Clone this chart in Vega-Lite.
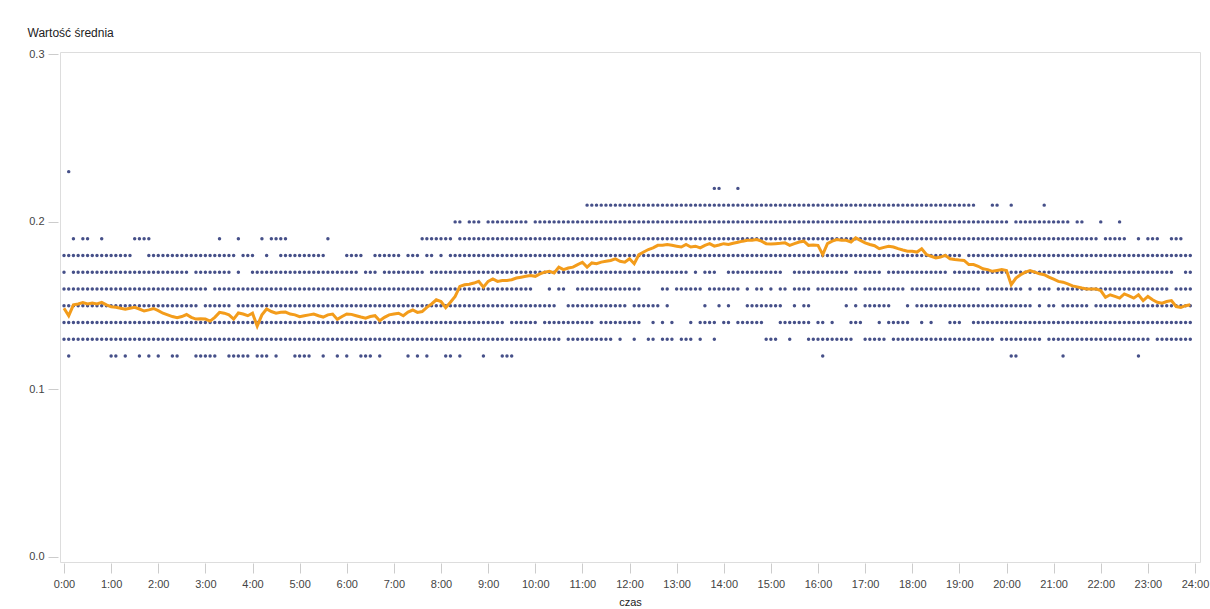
{"$schema":"https://vega.github.io/schema/vega-lite/v6.json","width":1140,"height":510,"autosize":{"type":"none"},"padding":{"left":60,"top":52,"right":10,"bottom":47},"background":"white",
"config":{"view":{"stroke":"#dddddd"},"font":"Liberation Sans","axis":{"labelColor":"#444444","labelFontSize":11,"tickColor":"#cccccc","titleColor":"#222222","titleFontWeight":"normal"}},
"datasets":{"dots":[
{"t":0.1,"v":0.23},
{"t":13.8,"v":0.22},{"t":13.9,"v":0.22},{"t":14.3,"v":0.22},
{"t":11.1,"v":0.21},{"t":11.2,"v":0.21},{"t":11.3,"v":0.21},{"t":11.4,"v":0.21},{"t":11.5,"v":0.21},{"t":11.6,"v":0.21},{"t":11.7,"v":0.21},{"t":11.8,"v":0.21},{"t":11.9,"v":0.21},
{"t":12,"v":0.21},{"t":12.1,"v":0.21},{"t":12.2,"v":0.21},{"t":12.3,"v":0.21},{"t":12.4,"v":0.21},{"t":12.5,"v":0.21},{"t":12.6,"v":0.21},{"t":12.7,"v":0.21},{"t":12.8,"v":0.21},{"t":12.9,"v":0.21},
{"t":13,"v":0.21},{"t":13.1,"v":0.21},{"t":13.2,"v":0.21},{"t":13.3,"v":0.21},{"t":13.4,"v":0.21},{"t":13.5,"v":0.21},{"t":13.6,"v":0.21},{"t":13.7,"v":0.21},{"t":13.8,"v":0.21},{"t":13.9,"v":0.21},
{"t":14,"v":0.21},{"t":14.1,"v":0.21},{"t":14.2,"v":0.21},{"t":14.3,"v":0.21},{"t":14.4,"v":0.21},{"t":14.5,"v":0.21},{"t":14.6,"v":0.21},{"t":14.7,"v":0.21},{"t":14.8,"v":0.21},{"t":14.9,"v":0.21},
{"t":15,"v":0.21},{"t":15.1,"v":0.21},{"t":15.2,"v":0.21},{"t":15.3,"v":0.21},{"t":15.4,"v":0.21},{"t":15.5,"v":0.21},{"t":15.6,"v":0.21},{"t":15.7,"v":0.21},{"t":15.8,"v":0.21},{"t":15.9,"v":0.21},
{"t":16,"v":0.21},{"t":16.1,"v":0.21},{"t":16.2,"v":0.21},{"t":16.3,"v":0.21},{"t":16.4,"v":0.21},{"t":16.5,"v":0.21},{"t":16.6,"v":0.21},{"t":16.7,"v":0.21},{"t":16.8,"v":0.21},{"t":16.9,"v":0.21},
{"t":17,"v":0.21},{"t":17.1,"v":0.21},{"t":17.2,"v":0.21},{"t":17.3,"v":0.21},{"t":17.4,"v":0.21},{"t":17.5,"v":0.21},{"t":17.6,"v":0.21},{"t":17.7,"v":0.21},{"t":17.8,"v":0.21},{"t":17.9,"v":0.21},
{"t":18,"v":0.21},{"t":18.1,"v":0.21},{"t":18.2,"v":0.21},{"t":18.3,"v":0.21},{"t":18.4,"v":0.21},{"t":18.5,"v":0.21},{"t":18.6,"v":0.21},{"t":18.7,"v":0.21},{"t":18.8,"v":0.21},{"t":18.9,"v":0.21},
{"t":19,"v":0.21},{"t":19.1,"v":0.21},{"t":19.2,"v":0.21},{"t":19.3,"v":0.21},{"t":19.7,"v":0.21},{"t":19.8,"v":0.21},{"t":20.1,"v":0.21},{"t":20.8,"v":0.21},
{"t":8.3,"v":0.2},{"t":8.4,"v":0.2},{"t":8.6,"v":0.2},{"t":8.7,"v":0.2},{"t":8.8,"v":0.2},
{"t":9,"v":0.2},{"t":9.1,"v":0.2},{"t":9.2,"v":0.2},{"t":9.3,"v":0.2},{"t":9.4,"v":0.2},{"t":9.5,"v":0.2},{"t":9.6,"v":0.2},{"t":9.7,"v":0.2},{"t":9.8,"v":0.2},
{"t":10,"v":0.2},{"t":10.1,"v":0.2},{"t":10.2,"v":0.2},{"t":10.3,"v":0.2},{"t":10.4,"v":0.2},{"t":10.5,"v":0.2},{"t":10.6,"v":0.2},{"t":10.7,"v":0.2},{"t":10.8,"v":0.2},{"t":10.9,"v":0.2},
{"t":11,"v":0.2},{"t":11.1,"v":0.2},{"t":11.2,"v":0.2},{"t":11.3,"v":0.2},{"t":11.4,"v":0.2},{"t":11.5,"v":0.2},{"t":11.6,"v":0.2},{"t":11.7,"v":0.2},{"t":11.8,"v":0.2},{"t":11.9,"v":0.2},
{"t":12,"v":0.2},{"t":12.1,"v":0.2},{"t":12.2,"v":0.2},{"t":12.3,"v":0.2},{"t":12.4,"v":0.2},{"t":12.5,"v":0.2},{"t":12.6,"v":0.2},{"t":12.7,"v":0.2},{"t":12.8,"v":0.2},{"t":12.9,"v":0.2},
{"t":13,"v":0.2},{"t":13.1,"v":0.2},{"t":13.2,"v":0.2},{"t":13.3,"v":0.2},{"t":13.4,"v":0.2},{"t":13.5,"v":0.2},{"t":13.6,"v":0.2},{"t":13.7,"v":0.2},{"t":13.8,"v":0.2},{"t":13.9,"v":0.2},
{"t":14,"v":0.2},{"t":14.1,"v":0.2},{"t":14.2,"v":0.2},{"t":14.3,"v":0.2},{"t":14.4,"v":0.2},{"t":14.5,"v":0.2},{"t":14.6,"v":0.2},{"t":14.7,"v":0.2},{"t":14.8,"v":0.2},{"t":14.9,"v":0.2},
{"t":15,"v":0.2},{"t":15.1,"v":0.2},{"t":15.2,"v":0.2},{"t":15.3,"v":0.2},{"t":15.4,"v":0.2},{"t":15.5,"v":0.2},{"t":15.6,"v":0.2},{"t":15.7,"v":0.2},{"t":15.8,"v":0.2},{"t":15.9,"v":0.2},
{"t":16,"v":0.2},{"t":16.1,"v":0.2},{"t":16.2,"v":0.2},{"t":16.3,"v":0.2},{"t":16.4,"v":0.2},{"t":16.5,"v":0.2},{"t":16.6,"v":0.2},{"t":16.7,"v":0.2},{"t":16.8,"v":0.2},{"t":16.9,"v":0.2},
{"t":17,"v":0.2},{"t":17.1,"v":0.2},{"t":17.2,"v":0.2},{"t":17.3,"v":0.2},{"t":17.4,"v":0.2},{"t":17.5,"v":0.2},{"t":17.6,"v":0.2},{"t":17.7,"v":0.2},{"t":17.8,"v":0.2},{"t":17.9,"v":0.2},
{"t":18,"v":0.2},{"t":18.1,"v":0.2},{"t":18.2,"v":0.2},{"t":18.3,"v":0.2},{"t":18.4,"v":0.2},{"t":18.5,"v":0.2},{"t":18.6,"v":0.2},{"t":18.7,"v":0.2},{"t":18.8,"v":0.2},{"t":18.9,"v":0.2},
{"t":19,"v":0.2},{"t":19.1,"v":0.2},{"t":19.2,"v":0.2},{"t":19.3,"v":0.2},{"t":19.4,"v":0.2},{"t":19.5,"v":0.2},{"t":19.6,"v":0.2},{"t":19.7,"v":0.2},{"t":19.8,"v":0.2},{"t":19.9,"v":0.2},
{"t":20,"v":0.2},{"t":20.2,"v":0.2},{"t":20.3,"v":0.2},{"t":20.4,"v":0.2},{"t":20.5,"v":0.2},{"t":20.6,"v":0.2},{"t":20.7,"v":0.2},{"t":20.8,"v":0.2},{"t":20.9,"v":0.2},
{"t":21,"v":0.2},{"t":21.1,"v":0.2},{"t":21.2,"v":0.2},{"t":21.3,"v":0.2},{"t":21.5,"v":0.2},{"t":21.6,"v":0.2},{"t":22,"v":0.2},{"t":22.4,"v":0.2},
{"t":0.2,"v":0.19},{"t":0.4,"v":0.19},{"t":0.5,"v":0.19},{"t":0.8,"v":0.19},{"t":1.5,"v":0.19},{"t":1.6,"v":0.19},{"t":1.7,"v":0.19},{"t":1.8,"v":0.19},{"t":3.3,"v":0.19},{"t":3.7,"v":0.19},{"t":4.2,"v":0.19},{"t":4.4,"v":0.19},{"t":4.5,"v":0.19},{"t":4.6,"v":0.19},{"t":4.7,"v":0.19},{"t":5.6,"v":0.19},
{"t":7.6,"v":0.19},{"t":7.7,"v":0.19},{"t":7.8,"v":0.19},{"t":7.9,"v":0.19},{"t":8,"v":0.19},{"t":8.1,"v":0.19},{"t":8.2,"v":0.19},{"t":8.4,"v":0.19},{"t":8.5,"v":0.19},{"t":8.6,"v":0.19},{"t":8.7,"v":0.19},{"t":8.8,"v":0.19},{"t":8.9,"v":0.19},
{"t":9,"v":0.19},{"t":9.1,"v":0.19},{"t":9.2,"v":0.19},{"t":9.3,"v":0.19},{"t":9.4,"v":0.19},{"t":9.5,"v":0.19},{"t":9.6,"v":0.19},{"t":9.7,"v":0.19},{"t":9.8,"v":0.19},{"t":9.9,"v":0.19},
{"t":10,"v":0.19},{"t":10.1,"v":0.19},{"t":10.2,"v":0.19},{"t":10.3,"v":0.19},{"t":10.4,"v":0.19},{"t":10.5,"v":0.19},{"t":10.6,"v":0.19},{"t":10.7,"v":0.19},{"t":10.8,"v":0.19},{"t":10.9,"v":0.19},
{"t":11,"v":0.19},{"t":11.1,"v":0.19},{"t":11.2,"v":0.19},{"t":11.3,"v":0.19},{"t":11.4,"v":0.19},{"t":11.5,"v":0.19},{"t":11.6,"v":0.19},{"t":11.7,"v":0.19},{"t":11.8,"v":0.19},{"t":11.9,"v":0.19},
{"t":12,"v":0.19},{"t":12.1,"v":0.19},{"t":12.2,"v":0.19},{"t":12.3,"v":0.19},{"t":12.4,"v":0.19},{"t":12.5,"v":0.19},{"t":12.6,"v":0.19},{"t":12.7,"v":0.19},{"t":12.8,"v":0.19},{"t":12.9,"v":0.19},
{"t":13,"v":0.19},{"t":13.1,"v":0.19},{"t":13.2,"v":0.19},{"t":13.3,"v":0.19},{"t":13.4,"v":0.19},{"t":13.5,"v":0.19},{"t":13.6,"v":0.19},{"t":13.7,"v":0.19},{"t":13.8,"v":0.19},{"t":13.9,"v":0.19},
{"t":14,"v":0.19},{"t":14.1,"v":0.19},{"t":14.2,"v":0.19},{"t":14.3,"v":0.19},{"t":14.4,"v":0.19},{"t":14.5,"v":0.19},{"t":14.6,"v":0.19},{"t":14.7,"v":0.19},{"t":14.8,"v":0.19},{"t":14.9,"v":0.19},
{"t":15,"v":0.19},{"t":15.1,"v":0.19},{"t":15.2,"v":0.19},{"t":15.3,"v":0.19},{"t":15.4,"v":0.19},{"t":15.5,"v":0.19},{"t":15.6,"v":0.19},{"t":15.7,"v":0.19},{"t":15.8,"v":0.19},{"t":15.9,"v":0.19},
{"t":16,"v":0.19},{"t":16.1,"v":0.19},{"t":16.2,"v":0.19},{"t":16.3,"v":0.19},{"t":16.4,"v":0.19},{"t":16.5,"v":0.19},{"t":16.6,"v":0.19},{"t":16.7,"v":0.19},{"t":16.8,"v":0.19},{"t":16.9,"v":0.19},
{"t":17,"v":0.19},{"t":17.1,"v":0.19},{"t":17.2,"v":0.19},{"t":17.3,"v":0.19},{"t":17.4,"v":0.19},{"t":17.5,"v":0.19},{"t":17.6,"v":0.19},{"t":17.7,"v":0.19},{"t":17.8,"v":0.19},{"t":17.9,"v":0.19},
{"t":18,"v":0.19},{"t":18.1,"v":0.19},{"t":18.2,"v":0.19},{"t":18.3,"v":0.19},{"t":18.4,"v":0.19},{"t":18.5,"v":0.19},{"t":18.6,"v":0.19},{"t":18.7,"v":0.19},{"t":18.8,"v":0.19},{"t":18.9,"v":0.19},
{"t":19,"v":0.19},{"t":19.1,"v":0.19},{"t":19.2,"v":0.19},{"t":19.3,"v":0.19},{"t":19.4,"v":0.19},{"t":19.5,"v":0.19},{"t":19.6,"v":0.19},{"t":19.7,"v":0.19},{"t":19.8,"v":0.19},{"t":19.9,"v":0.19},
{"t":20,"v":0.19},{"t":20.1,"v":0.19},{"t":20.2,"v":0.19},{"t":20.3,"v":0.19},{"t":20.4,"v":0.19},{"t":20.5,"v":0.19},{"t":20.6,"v":0.19},{"t":20.7,"v":0.19},{"t":20.8,"v":0.19},{"t":20.9,"v":0.19},
{"t":21,"v":0.19},{"t":21.1,"v":0.19},{"t":21.2,"v":0.19},{"t":21.3,"v":0.19},{"t":21.4,"v":0.19},{"t":21.5,"v":0.19},{"t":21.6,"v":0.19},{"t":21.7,"v":0.19},{"t":21.8,"v":0.19},{"t":21.9,"v":0.19},
{"t":22.1,"v":0.19},{"t":22.2,"v":0.19},{"t":22.3,"v":0.19},{"t":22.4,"v":0.19},{"t":22.5,"v":0.19},{"t":22.8,"v":0.19},{"t":23,"v":0.19},{"t":23.1,"v":0.19},{"t":23.2,"v":0.19},{"t":23.5,"v":0.19},{"t":23.6,"v":0.19},{"t":23.7,"v":0.19},
{"t":0,"v":0.18},{"t":0.1,"v":0.18},{"t":0.2,"v":0.18},{"t":0.3,"v":0.18},{"t":0.4,"v":0.18},{"t":0.5,"v":0.18},{"t":0.6,"v":0.18},{"t":0.7,"v":0.18},{"t":0.8,"v":0.18},{"t":0.9,"v":0.18},
{"t":1,"v":0.18},{"t":1.1,"v":0.18},{"t":1.2,"v":0.18},{"t":1.3,"v":0.18},{"t":1.4,"v":0.18},{"t":1.8,"v":0.18},{"t":1.9,"v":0.18},
{"t":2,"v":0.18},{"t":2.1,"v":0.18},{"t":2.2,"v":0.18},{"t":2.3,"v":0.18},{"t":2.4,"v":0.18},{"t":2.5,"v":0.18},{"t":2.6,"v":0.18},{"t":2.7,"v":0.18},{"t":2.8,"v":0.18},{"t":2.9,"v":0.18},
{"t":3,"v":0.18},{"t":3.1,"v":0.18},{"t":3.2,"v":0.18},{"t":3.3,"v":0.18},{"t":3.4,"v":0.18},{"t":3.5,"v":0.18},{"t":3.6,"v":0.18},{"t":3.8,"v":0.18},{"t":3.9,"v":0.18},{"t":4,"v":0.18},{"t":4.3,"v":0.18},
{"t":4.6,"v":0.18},{"t":4.7,"v":0.18},{"t":4.8,"v":0.18},{"t":4.9,"v":0.18},{"t":5,"v":0.18},{"t":5.1,"v":0.18},{"t":5.2,"v":0.18},{"t":5.3,"v":0.18},{"t":5.4,"v":0.18},{"t":5.5,"v":0.18},
{"t":6,"v":0.18},{"t":6.1,"v":0.18},{"t":6.2,"v":0.18},{"t":6.3,"v":0.18},{"t":6.6,"v":0.18},{"t":6.7,"v":0.18},{"t":6.8,"v":0.18},{"t":6.9,"v":0.18},{"t":7,"v":0.18},{"t":7.1,"v":0.18},
{"t":7.3,"v":0.18},{"t":7.4,"v":0.18},{"t":7.5,"v":0.18},{"t":7.7,"v":0.18},{"t":7.8,"v":0.18},{"t":8,"v":0.18},{"t":8.2,"v":0.18},{"t":8.3,"v":0.18},{"t":8.4,"v":0.18},{"t":8.5,"v":0.18},{"t":8.6,"v":0.18},{"t":8.7,"v":0.18},{"t":8.8,"v":0.18},{"t":8.9,"v":0.18},
{"t":9,"v":0.18},{"t":9.1,"v":0.18},{"t":9.2,"v":0.18},{"t":9.3,"v":0.18},{"t":9.4,"v":0.18},{"t":9.5,"v":0.18},{"t":9.6,"v":0.18},{"t":9.7,"v":0.18},{"t":9.8,"v":0.18},{"t":9.9,"v":0.18},
{"t":10,"v":0.18},{"t":10.1,"v":0.18},{"t":10.2,"v":0.18},{"t":10.3,"v":0.18},{"t":10.4,"v":0.18},{"t":10.5,"v":0.18},{"t":10.6,"v":0.18},{"t":10.7,"v":0.18},{"t":10.8,"v":0.18},{"t":10.9,"v":0.18},
{"t":11,"v":0.18},{"t":11.1,"v":0.18},{"t":11.2,"v":0.18},{"t":11.3,"v":0.18},{"t":11.4,"v":0.18},{"t":11.5,"v":0.18},{"t":11.6,"v":0.18},{"t":11.7,"v":0.18},{"t":11.8,"v":0.18},{"t":11.9,"v":0.18},
{"t":12,"v":0.18},{"t":12.1,"v":0.18},{"t":12.2,"v":0.18},{"t":12.3,"v":0.18},{"t":12.4,"v":0.18},{"t":12.5,"v":0.18},{"t":12.6,"v":0.18},{"t":12.7,"v":0.18},{"t":12.8,"v":0.18},{"t":12.9,"v":0.18},
{"t":13,"v":0.18},{"t":13.1,"v":0.18},{"t":13.2,"v":0.18},{"t":13.3,"v":0.18},{"t":13.4,"v":0.18},{"t":13.5,"v":0.18},{"t":13.6,"v":0.18},{"t":13.7,"v":0.18},{"t":13.8,"v":0.18},{"t":13.9,"v":0.18},
{"t":14,"v":0.18},{"t":14.1,"v":0.18},{"t":14.2,"v":0.18},{"t":14.3,"v":0.18},{"t":14.4,"v":0.18},{"t":14.5,"v":0.18},{"t":14.6,"v":0.18},{"t":14.7,"v":0.18},{"t":14.8,"v":0.18},{"t":14.9,"v":0.18},
{"t":15,"v":0.18},{"t":15.1,"v":0.18},{"t":15.2,"v":0.18},{"t":15.3,"v":0.18},{"t":15.4,"v":0.18},{"t":15.5,"v":0.18},{"t":15.6,"v":0.18},{"t":15.7,"v":0.18},{"t":15.8,"v":0.18},{"t":15.9,"v":0.18},
{"t":16,"v":0.18},{"t":16.1,"v":0.18},{"t":16.2,"v":0.18},{"t":16.3,"v":0.18},{"t":16.4,"v":0.18},{"t":16.5,"v":0.18},{"t":16.6,"v":0.18},{"t":16.7,"v":0.18},{"t":16.8,"v":0.18},{"t":16.9,"v":0.18},
{"t":17,"v":0.18},{"t":17.1,"v":0.18},{"t":17.2,"v":0.18},{"t":17.3,"v":0.18},{"t":17.4,"v":0.18},{"t":17.5,"v":0.18},{"t":17.6,"v":0.18},{"t":17.7,"v":0.18},{"t":17.8,"v":0.18},{"t":17.9,"v":0.18},
{"t":18,"v":0.18},{"t":18.1,"v":0.18},{"t":18.2,"v":0.18},{"t":18.3,"v":0.18},{"t":18.4,"v":0.18},{"t":18.5,"v":0.18},{"t":18.6,"v":0.18},{"t":18.7,"v":0.18},{"t":18.8,"v":0.18},{"t":18.9,"v":0.18},
{"t":19,"v":0.18},{"t":19.2,"v":0.18},{"t":19.3,"v":0.18},{"t":19.4,"v":0.18},{"t":19.5,"v":0.18},{"t":19.6,"v":0.18},{"t":19.7,"v":0.18},{"t":19.8,"v":0.18},{"t":19.9,"v":0.18},
{"t":20,"v":0.18},{"t":20.1,"v":0.18},{"t":20.2,"v":0.18},{"t":20.3,"v":0.18},{"t":20.4,"v":0.18},{"t":20.5,"v":0.18},{"t":20.6,"v":0.18},{"t":20.7,"v":0.18},{"t":20.8,"v":0.18},{"t":20.9,"v":0.18},
{"t":21,"v":0.18},{"t":21.1,"v":0.18},{"t":21.2,"v":0.18},{"t":21.3,"v":0.18},{"t":21.4,"v":0.18},{"t":21.5,"v":0.18},{"t":21.6,"v":0.18},{"t":21.7,"v":0.18},{"t":21.8,"v":0.18},{"t":21.9,"v":0.18},
{"t":22,"v":0.18},{"t":22.1,"v":0.18},{"t":22.2,"v":0.18},{"t":22.3,"v":0.18},{"t":22.4,"v":0.18},{"t":22.5,"v":0.18},{"t":22.6,"v":0.18},{"t":22.7,"v":0.18},{"t":22.8,"v":0.18},{"t":22.9,"v":0.18},
{"t":23,"v":0.18},{"t":23.1,"v":0.18},{"t":23.2,"v":0.18},{"t":23.3,"v":0.18},{"t":23.4,"v":0.18},{"t":23.5,"v":0.18},{"t":23.6,"v":0.18},{"t":23.7,"v":0.18},{"t":23.8,"v":0.18},{"t":23.9,"v":0.18},
{"t":0,"v":0.17},{"t":0.2,"v":0.17},{"t":0.3,"v":0.17},{"t":0.4,"v":0.17},{"t":0.5,"v":0.17},{"t":0.6,"v":0.17},{"t":0.7,"v":0.17},{"t":0.8,"v":0.17},{"t":0.9,"v":0.17},
{"t":1,"v":0.17},{"t":1.1,"v":0.17},{"t":1.2,"v":0.17},{"t":1.3,"v":0.17},{"t":1.4,"v":0.17},{"t":1.5,"v":0.17},{"t":1.6,"v":0.17},{"t":1.7,"v":0.17},{"t":1.8,"v":0.17},{"t":1.9,"v":0.17},
{"t":2,"v":0.17},{"t":2.1,"v":0.17},{"t":2.2,"v":0.17},{"t":2.3,"v":0.17},{"t":2.4,"v":0.17},{"t":2.5,"v":0.17},{"t":2.6,"v":0.17},{"t":2.8,"v":0.17},{"t":2.9,"v":0.17},
{"t":3,"v":0.17},{"t":3.1,"v":0.17},{"t":3.2,"v":0.17},{"t":3.3,"v":0.17},{"t":3.4,"v":0.17},{"t":3.5,"v":0.17},{"t":3.7,"v":0.17},
{"t":4,"v":0.17},{"t":4.1,"v":0.17},{"t":4.2,"v":0.17},{"t":4.3,"v":0.17},{"t":4.4,"v":0.17},{"t":4.5,"v":0.17},{"t":4.6,"v":0.17},{"t":4.7,"v":0.17},{"t":4.8,"v":0.17},{"t":4.9,"v":0.17},
{"t":5,"v":0.17},{"t":5.1,"v":0.17},{"t":5.2,"v":0.17},{"t":5.3,"v":0.17},{"t":5.4,"v":0.17},{"t":5.5,"v":0.17},{"t":5.6,"v":0.17},{"t":5.7,"v":0.17},{"t":5.8,"v":0.17},{"t":5.9,"v":0.17},
{"t":6,"v":0.17},{"t":6.1,"v":0.17},{"t":6.2,"v":0.17},{"t":6.4,"v":0.17},{"t":6.5,"v":0.17},{"t":6.6,"v":0.17},{"t":6.8,"v":0.17},{"t":6.9,"v":0.17},
{"t":7,"v":0.17},{"t":7.1,"v":0.17},{"t":7.2,"v":0.17},{"t":7.3,"v":0.17},{"t":7.4,"v":0.17},{"t":7.5,"v":0.17},{"t":7.6,"v":0.17},{"t":7.8,"v":0.17},{"t":7.9,"v":0.17},
{"t":8,"v":0.17},{"t":8.1,"v":0.17},{"t":8.2,"v":0.17},{"t":8.3,"v":0.17},{"t":8.4,"v":0.17},{"t":8.5,"v":0.17},{"t":8.6,"v":0.17},{"t":8.7,"v":0.17},{"t":8.8,"v":0.17},{"t":8.9,"v":0.17},
{"t":9,"v":0.17},{"t":9.1,"v":0.17},{"t":9.2,"v":0.17},{"t":9.3,"v":0.17},{"t":9.4,"v":0.17},{"t":9.5,"v":0.17},{"t":9.6,"v":0.17},{"t":9.7,"v":0.17},{"t":9.8,"v":0.17},{"t":9.9,"v":0.17},
{"t":10,"v":0.17},{"t":10.1,"v":0.17},{"t":10.2,"v":0.17},{"t":10.3,"v":0.17},{"t":10.4,"v":0.17},{"t":10.5,"v":0.17},{"t":10.6,"v":0.17},{"t":10.7,"v":0.17},{"t":10.8,"v":0.17},{"t":10.9,"v":0.17},
{"t":11,"v":0.17},{"t":11.1,"v":0.17},{"t":11.2,"v":0.17},{"t":11.3,"v":0.17},{"t":11.4,"v":0.17},{"t":11.5,"v":0.17},{"t":11.6,"v":0.17},{"t":11.7,"v":0.17},{"t":11.8,"v":0.17},{"t":11.9,"v":0.17},
{"t":12,"v":0.17},{"t":12.1,"v":0.17},{"t":12.2,"v":0.17},{"t":12.3,"v":0.17},{"t":12.4,"v":0.17},{"t":12.5,"v":0.17},{"t":12.6,"v":0.17},{"t":12.7,"v":0.17},{"t":12.8,"v":0.17},{"t":12.9,"v":0.17},
{"t":13,"v":0.17},{"t":13.1,"v":0.17},{"t":13.2,"v":0.17},{"t":13.4,"v":0.17},{"t":13.6,"v":0.17},{"t":13.7,"v":0.17},{"t":13.8,"v":0.17},
{"t":14.1,"v":0.17},{"t":14.2,"v":0.17},{"t":14.3,"v":0.17},{"t":14.4,"v":0.17},{"t":14.5,"v":0.17},{"t":14.6,"v":0.17},{"t":14.7,"v":0.17},{"t":14.8,"v":0.17},{"t":14.9,"v":0.17},{"t":15,"v":0.17},{"t":15.1,"v":0.17},{"t":15.2,"v":0.17},
{"t":15.5,"v":0.17},{"t":15.6,"v":0.17},{"t":15.7,"v":0.17},{"t":15.8,"v":0.17},{"t":15.9,"v":0.17},{"t":16,"v":0.17},{"t":16.1,"v":0.17},{"t":16.2,"v":0.17},{"t":16.3,"v":0.17},{"t":16.4,"v":0.17},{"t":16.5,"v":0.17},{"t":16.6,"v":0.17},
{"t":16.8,"v":0.17},{"t":16.9,"v":0.17},{"t":17,"v":0.17},{"t":17.1,"v":0.17},{"t":17.2,"v":0.17},{"t":17.3,"v":0.17},
{"t":17.5,"v":0.17},{"t":17.6,"v":0.17},{"t":17.7,"v":0.17},{"t":17.8,"v":0.17},{"t":17.9,"v":0.17},{"t":18,"v":0.17},{"t":18.1,"v":0.17},{"t":18.2,"v":0.17},{"t":18.3,"v":0.17},{"t":18.4,"v":0.17},{"t":18.5,"v":0.17},{"t":18.6,"v":0.17},{"t":18.7,"v":0.17},
{"t":18.9,"v":0.17},{"t":19,"v":0.17},{"t":19.1,"v":0.17},{"t":19.2,"v":0.17},{"t":19.3,"v":0.17},{"t":19.4,"v":0.17},{"t":19.5,"v":0.17},{"t":19.6,"v":0.17},{"t":19.7,"v":0.17},{"t":19.8,"v":0.17},{"t":19.9,"v":0.17},
{"t":20,"v":0.17},{"t":20.1,"v":0.17},{"t":20.2,"v":0.17},{"t":20.3,"v":0.17},{"t":20.4,"v":0.17},{"t":20.5,"v":0.17},{"t":20.6,"v":0.17},{"t":20.7,"v":0.17},{"t":20.8,"v":0.17},{"t":20.9,"v":0.17},
{"t":21,"v":0.17},{"t":21.1,"v":0.17},{"t":21.2,"v":0.17},{"t":21.3,"v":0.17},{"t":21.4,"v":0.17},{"t":21.5,"v":0.17},{"t":21.6,"v":0.17},{"t":21.7,"v":0.17},{"t":21.8,"v":0.17},{"t":21.9,"v":0.17},
{"t":22,"v":0.17},{"t":22.1,"v":0.17},{"t":22.2,"v":0.17},{"t":22.3,"v":0.17},{"t":22.4,"v":0.17},{"t":22.5,"v":0.17},{"t":22.6,"v":0.17},{"t":22.7,"v":0.17},{"t":22.8,"v":0.17},{"t":22.9,"v":0.17},
{"t":23,"v":0.17},{"t":23.1,"v":0.17},{"t":23.2,"v":0.17},{"t":23.3,"v":0.17},{"t":23.4,"v":0.17},{"t":23.5,"v":0.17},{"t":23.8,"v":0.17},{"t":23.9,"v":0.17},
{"t":0,"v":0.16},{"t":0.1,"v":0.16},{"t":0.2,"v":0.16},{"t":0.3,"v":0.16},{"t":0.4,"v":0.16},{"t":0.5,"v":0.16},{"t":0.6,"v":0.16},{"t":0.7,"v":0.16},{"t":0.8,"v":0.16},{"t":0.9,"v":0.16},
{"t":1,"v":0.16},{"t":1.1,"v":0.16},{"t":1.2,"v":0.16},{"t":1.3,"v":0.16},{"t":1.4,"v":0.16},{"t":1.5,"v":0.16},{"t":1.6,"v":0.16},{"t":1.7,"v":0.16},{"t":1.8,"v":0.16},{"t":1.9,"v":0.16},
{"t":2,"v":0.16},{"t":2.1,"v":0.16},{"t":2.2,"v":0.16},{"t":2.3,"v":0.16},{"t":2.4,"v":0.16},{"t":2.5,"v":0.16},{"t":2.6,"v":0.16},{"t":2.7,"v":0.16},{"t":2.8,"v":0.16},{"t":2.9,"v":0.16},
{"t":3,"v":0.16},{"t":3.2,"v":0.16},{"t":3.3,"v":0.16},{"t":3.4,"v":0.16},{"t":3.5,"v":0.16},{"t":3.6,"v":0.16},{"t":3.7,"v":0.16},{"t":3.8,"v":0.16},{"t":3.9,"v":0.16},
{"t":4,"v":0.16},{"t":4.1,"v":0.16},{"t":4.2,"v":0.16},{"t":4.3,"v":0.16},{"t":4.4,"v":0.16},{"t":4.5,"v":0.16},{"t":4.6,"v":0.16},{"t":4.7,"v":0.16},{"t":4.8,"v":0.16},{"t":4.9,"v":0.16},
{"t":5,"v":0.16},{"t":5.1,"v":0.16},{"t":5.2,"v":0.16},{"t":5.3,"v":0.16},{"t":5.4,"v":0.16},{"t":5.5,"v":0.16},{"t":5.6,"v":0.16},{"t":5.7,"v":0.16},{"t":5.8,"v":0.16},{"t":5.9,"v":0.16},
{"t":6,"v":0.16},{"t":6.1,"v":0.16},{"t":6.2,"v":0.16},{"t":6.3,"v":0.16},{"t":6.4,"v":0.16},{"t":6.5,"v":0.16},{"t":6.6,"v":0.16},{"t":6.7,"v":0.16},{"t":6.8,"v":0.16},{"t":6.9,"v":0.16},
{"t":7,"v":0.16},{"t":7.1,"v":0.16},{"t":7.2,"v":0.16},{"t":7.3,"v":0.16},{"t":7.4,"v":0.16},{"t":7.5,"v":0.16},{"t":7.6,"v":0.16},{"t":7.7,"v":0.16},{"t":7.8,"v":0.16},{"t":7.9,"v":0.16},
{"t":8,"v":0.16},{"t":8.1,"v":0.16},{"t":8.2,"v":0.16},{"t":8.3,"v":0.16},{"t":8.4,"v":0.16},{"t":8.5,"v":0.16},{"t":8.6,"v":0.16},{"t":8.7,"v":0.16},{"t":8.8,"v":0.16},{"t":8.9,"v":0.16},
{"t":9,"v":0.16},{"t":9.1,"v":0.16},{"t":9.2,"v":0.16},{"t":9.3,"v":0.16},{"t":9.4,"v":0.16},{"t":9.5,"v":0.16},{"t":9.6,"v":0.16},{"t":9.7,"v":0.16},{"t":9.8,"v":0.16},{"t":9.9,"v":0.16},
{"t":10.3,"v":0.16},{"t":10.5,"v":0.16},{"t":10.6,"v":0.16},{"t":10.9,"v":0.16},{"t":11,"v":0.16},{"t":11.1,"v":0.16},{"t":11.2,"v":0.16},{"t":11.3,"v":0.16},{"t":11.4,"v":0.16},{"t":11.5,"v":0.16},{"t":11.6,"v":0.16},{"t":11.7,"v":0.16},{"t":11.8,"v":0.16},{"t":11.9,"v":0.16},
{"t":12,"v":0.16},{"t":12.1,"v":0.16},{"t":12.2,"v":0.16},{"t":12.7,"v":0.16},{"t":12.8,"v":0.16},{"t":13,"v":0.16},{"t":13.1,"v":0.16},{"t":13.2,"v":0.16},{"t":13.3,"v":0.16},{"t":13.4,"v":0.16},{"t":13.5,"v":0.16},
{"t":13.7,"v":0.16},{"t":13.8,"v":0.16},{"t":13.9,"v":0.16},{"t":14,"v":0.16},{"t":14.1,"v":0.16},{"t":14.2,"v":0.16},{"t":14.3,"v":0.16},{"t":14.5,"v":0.16},{"t":14.7,"v":0.16},{"t":14.8,"v":0.16},{"t":15,"v":0.16},{"t":15.2,"v":0.16},{"t":15.3,"v":0.16},
{"t":15.5,"v":0.16},{"t":15.6,"v":0.16},{"t":15.7,"v":0.16},{"t":15.8,"v":0.16},{"t":16,"v":0.16},{"t":16.1,"v":0.16},{"t":16.2,"v":0.16},{"t":16.3,"v":0.16},{"t":16.4,"v":0.16},{"t":16.5,"v":0.16},{"t":16.6,"v":0.16},{"t":16.7,"v":0.16},{"t":16.8,"v":0.16},
{"t":17,"v":0.16},{"t":17.1,"v":0.16},{"t":17.2,"v":0.16},{"t":17.3,"v":0.16},{"t":17.4,"v":0.16},{"t":17.5,"v":0.16},{"t":17.6,"v":0.16},{"t":17.7,"v":0.16},{"t":17.8,"v":0.16},
{"t":18,"v":0.16},{"t":18.1,"v":0.16},{"t":18.2,"v":0.16},{"t":18.3,"v":0.16},{"t":18.4,"v":0.16},{"t":18.5,"v":0.16},{"t":18.6,"v":0.16},{"t":18.7,"v":0.16},{"t":18.8,"v":0.16},{"t":18.9,"v":0.16},
{"t":19,"v":0.16},{"t":19.1,"v":0.16},{"t":19.2,"v":0.16},{"t":19.3,"v":0.16},{"t":19.4,"v":0.16},{"t":19.6,"v":0.16},{"t":19.7,"v":0.16},{"t":19.8,"v":0.16},{"t":19.9,"v":0.16},
{"t":20,"v":0.16},{"t":20.1,"v":0.16},{"t":20.2,"v":0.16},{"t":20.3,"v":0.16},{"t":20.5,"v":0.16},{"t":20.7,"v":0.16},{"t":20.8,"v":0.16},{"t":20.9,"v":0.16},
{"t":21.1,"v":0.16},{"t":21.2,"v":0.16},{"t":21.3,"v":0.16},{"t":21.4,"v":0.16},{"t":21.5,"v":0.16},{"t":21.6,"v":0.16},{"t":21.7,"v":0.16},{"t":21.8,"v":0.16},{"t":21.9,"v":0.16},
{"t":22,"v":0.16},{"t":22.1,"v":0.16},{"t":22.2,"v":0.16},{"t":22.3,"v":0.16},{"t":22.4,"v":0.16},{"t":22.5,"v":0.16},{"t":22.6,"v":0.16},{"t":22.7,"v":0.16},{"t":22.8,"v":0.16},{"t":22.9,"v":0.16},
{"t":23,"v":0.16},{"t":23.1,"v":0.16},{"t":23.2,"v":0.16},{"t":23.3,"v":0.16},{"t":23.4,"v":0.16},{"t":23.6,"v":0.16},{"t":23.7,"v":0.16},{"t":23.8,"v":0.16},{"t":23.9,"v":0.16},
{"t":0,"v":0.15},{"t":0.1,"v":0.15},{"t":0.2,"v":0.15},{"t":0.3,"v":0.15},{"t":0.4,"v":0.15},{"t":0.5,"v":0.15},{"t":0.6,"v":0.15},{"t":0.7,"v":0.15},{"t":0.8,"v":0.15},{"t":0.9,"v":0.15},
{"t":1,"v":0.15},{"t":1.1,"v":0.15},{"t":1.2,"v":0.15},{"t":1.3,"v":0.15},{"t":1.4,"v":0.15},{"t":1.5,"v":0.15},{"t":1.6,"v":0.15},{"t":1.7,"v":0.15},{"t":1.8,"v":0.15},{"t":1.9,"v":0.15},
{"t":2,"v":0.15},{"t":2.1,"v":0.15},{"t":2.2,"v":0.15},{"t":2.3,"v":0.15},{"t":2.4,"v":0.15},{"t":2.5,"v":0.15},{"t":2.6,"v":0.15},{"t":2.7,"v":0.15},{"t":2.8,"v":0.15},
{"t":3,"v":0.15},{"t":3.1,"v":0.15},{"t":3.2,"v":0.15},{"t":3.3,"v":0.15},{"t":3.4,"v":0.15},{"t":3.5,"v":0.15},{"t":3.7,"v":0.15},{"t":3.8,"v":0.15},{"t":3.9,"v":0.15},
{"t":4,"v":0.15},{"t":4.1,"v":0.15},{"t":4.2,"v":0.15},{"t":4.3,"v":0.15},{"t":4.4,"v":0.15},{"t":4.5,"v":0.15},{"t":4.6,"v":0.15},{"t":4.7,"v":0.15},{"t":4.8,"v":0.15},{"t":4.9,"v":0.15},
{"t":5,"v":0.15},{"t":5.1,"v":0.15},{"t":5.2,"v":0.15},{"t":5.3,"v":0.15},{"t":5.4,"v":0.15},{"t":5.5,"v":0.15},{"t":5.6,"v":0.15},{"t":5.7,"v":0.15},{"t":5.8,"v":0.15},{"t":5.9,"v":0.15},
{"t":6,"v":0.15},{"t":6.1,"v":0.15},{"t":6.2,"v":0.15},{"t":6.3,"v":0.15},{"t":6.4,"v":0.15},{"t":6.5,"v":0.15},{"t":6.6,"v":0.15},{"t":6.7,"v":0.15},{"t":6.8,"v":0.15},{"t":6.9,"v":0.15},
{"t":7,"v":0.15},{"t":7.1,"v":0.15},{"t":7.2,"v":0.15},{"t":7.3,"v":0.15},{"t":7.4,"v":0.15},{"t":7.5,"v":0.15},{"t":7.6,"v":0.15},{"t":7.7,"v":0.15},{"t":7.8,"v":0.15},{"t":7.9,"v":0.15},
{"t":8,"v":0.15},{"t":8.1,"v":0.15},{"t":8.2,"v":0.15},{"t":8.3,"v":0.15},{"t":8.4,"v":0.15},{"t":8.5,"v":0.15},{"t":8.6,"v":0.15},{"t":8.7,"v":0.15},{"t":8.8,"v":0.15},{"t":8.9,"v":0.15},
{"t":9,"v":0.15},{"t":9.1,"v":0.15},{"t":9.2,"v":0.15},{"t":9.3,"v":0.15},{"t":9.4,"v":0.15},{"t":9.5,"v":0.15},{"t":9.6,"v":0.15},{"t":9.7,"v":0.15},{"t":9.8,"v":0.15},{"t":9.9,"v":0.15},
{"t":10,"v":0.15},{"t":10.1,"v":0.15},{"t":10.2,"v":0.15},{"t":10.3,"v":0.15},{"t":10.4,"v":0.15},{"t":10.7,"v":0.15},{"t":10.8,"v":0.15},{"t":10.9,"v":0.15},
{"t":11,"v":0.15},{"t":11.1,"v":0.15},{"t":11.2,"v":0.15},{"t":11.3,"v":0.15},{"t":11.4,"v":0.15},{"t":11.5,"v":0.15},{"t":11.6,"v":0.15},{"t":11.7,"v":0.15},{"t":11.8,"v":0.15},{"t":11.9,"v":0.15},
{"t":12.1,"v":0.15},{"t":12.2,"v":0.15},{"t":12.3,"v":0.15},{"t":12.4,"v":0.15},{"t":12.5,"v":0.15},{"t":12.6,"v":0.15},{"t":12.8,"v":0.15},{"t":13.6,"v":0.15},{"t":13.9,"v":0.15},{"t":14.1,"v":0.15},
{"t":14.5,"v":0.15},{"t":14.6,"v":0.15},{"t":14.7,"v":0.15},{"t":14.8,"v":0.15},{"t":14.9,"v":0.15},{"t":15,"v":0.15},{"t":15.1,"v":0.15},{"t":15.2,"v":0.15},{"t":15.5,"v":0.15},{"t":15.7,"v":0.15},{"t":15.8,"v":0.15},{"t":16.6,"v":0.15},{"t":16.8,"v":0.15},
{"t":17,"v":0.15},{"t":17.1,"v":0.15},{"t":17.2,"v":0.15},{"t":17.3,"v":0.15},{"t":17.4,"v":0.15},{"t":17.5,"v":0.15},{"t":17.9,"v":0.15},
{"t":18.1,"v":0.15},{"t":18.2,"v":0.15},{"t":18.3,"v":0.15},{"t":18.4,"v":0.15},{"t":18.5,"v":0.15},{"t":18.6,"v":0.15},{"t":18.7,"v":0.15},{"t":18.8,"v":0.15},{"t":18.9,"v":0.15},
{"t":19,"v":0.15},{"t":19.1,"v":0.15},{"t":19.2,"v":0.15},{"t":19.3,"v":0.15},{"t":19.4,"v":0.15},{"t":19.5,"v":0.15},{"t":19.6,"v":0.15},{"t":19.7,"v":0.15},{"t":19.8,"v":0.15},{"t":19.9,"v":0.15},
{"t":20,"v":0.15},{"t":20.1,"v":0.15},{"t":20.2,"v":0.15},{"t":20.3,"v":0.15},{"t":20.4,"v":0.15},{"t":20.5,"v":0.15},{"t":20.7,"v":0.15},{"t":20.9,"v":0.15},{"t":21,"v":0.15},
{"t":21.2,"v":0.15},{"t":21.3,"v":0.15},{"t":21.4,"v":0.15},{"t":21.5,"v":0.15},{"t":21.6,"v":0.15},{"t":21.7,"v":0.15},{"t":21.9,"v":0.15},
{"t":22,"v":0.15},{"t":22.1,"v":0.15},{"t":22.2,"v":0.15},{"t":22.3,"v":0.15},{"t":22.4,"v":0.15},{"t":22.5,"v":0.15},{"t":22.6,"v":0.15},{"t":22.7,"v":0.15},{"t":22.8,"v":0.15},{"t":22.9,"v":0.15},
{"t":23,"v":0.15},{"t":23.1,"v":0.15},{"t":23.2,"v":0.15},{"t":23.3,"v":0.15},{"t":23.4,"v":0.15},{"t":23.5,"v":0.15},{"t":23.6,"v":0.15},{"t":23.7,"v":0.15},{"t":23.8,"v":0.15},{"t":23.9,"v":0.15},
{"t":0,"v":0.14},{"t":0.1,"v":0.14},{"t":0.2,"v":0.14},{"t":0.3,"v":0.14},{"t":0.4,"v":0.14},{"t":0.5,"v":0.14},{"t":0.6,"v":0.14},{"t":0.7,"v":0.14},{"t":0.8,"v":0.14},{"t":0.9,"v":0.14},
{"t":1,"v":0.14},{"t":1.1,"v":0.14},{"t":1.2,"v":0.14},{"t":1.3,"v":0.14},{"t":1.4,"v":0.14},{"t":1.5,"v":0.14},{"t":1.6,"v":0.14},{"t":1.7,"v":0.14},{"t":1.8,"v":0.14},{"t":1.9,"v":0.14},
{"t":2,"v":0.14},{"t":2.1,"v":0.14},{"t":2.2,"v":0.14},{"t":2.3,"v":0.14},{"t":2.4,"v":0.14},{"t":2.5,"v":0.14},{"t":2.6,"v":0.14},{"t":2.7,"v":0.14},{"t":2.8,"v":0.14},{"t":2.9,"v":0.14},
{"t":3,"v":0.14},{"t":3.1,"v":0.14},{"t":3.2,"v":0.14},{"t":3.3,"v":0.14},{"t":3.4,"v":0.14},{"t":3.5,"v":0.14},{"t":3.6,"v":0.14},{"t":3.7,"v":0.14},{"t":3.8,"v":0.14},{"t":3.9,"v":0.14},
{"t":4,"v":0.14},{"t":4.1,"v":0.14},{"t":4.2,"v":0.14},{"t":4.3,"v":0.14},{"t":4.4,"v":0.14},{"t":4.5,"v":0.14},{"t":4.6,"v":0.14},{"t":4.7,"v":0.14},{"t":4.8,"v":0.14},{"t":4.9,"v":0.14},
{"t":5,"v":0.14},{"t":5.1,"v":0.14},{"t":5.2,"v":0.14},{"t":5.3,"v":0.14},{"t":5.4,"v":0.14},{"t":5.5,"v":0.14},{"t":5.6,"v":0.14},{"t":5.7,"v":0.14},{"t":5.8,"v":0.14},{"t":5.9,"v":0.14},
{"t":6,"v":0.14},{"t":6.1,"v":0.14},{"t":6.2,"v":0.14},{"t":6.3,"v":0.14},{"t":6.4,"v":0.14},{"t":6.5,"v":0.14},{"t":6.6,"v":0.14},{"t":6.7,"v":0.14},{"t":6.8,"v":0.14},{"t":6.9,"v":0.14},
{"t":7,"v":0.14},{"t":7.1,"v":0.14},{"t":7.2,"v":0.14},{"t":7.3,"v":0.14},{"t":7.4,"v":0.14},{"t":7.5,"v":0.14},{"t":7.6,"v":0.14},{"t":7.7,"v":0.14},{"t":7.8,"v":0.14},{"t":7.9,"v":0.14},
{"t":8,"v":0.14},{"t":8.1,"v":0.14},{"t":8.2,"v":0.14},{"t":8.3,"v":0.14},{"t":8.4,"v":0.14},{"t":8.5,"v":0.14},{"t":8.6,"v":0.14},{"t":8.7,"v":0.14},{"t":8.8,"v":0.14},{"t":8.9,"v":0.14},
{"t":9,"v":0.14},{"t":9.1,"v":0.14},{"t":9.2,"v":0.14},{"t":9.3,"v":0.14},{"t":9.5,"v":0.14},{"t":9.6,"v":0.14},{"t":9.7,"v":0.14},{"t":9.8,"v":0.14},{"t":9.9,"v":0.14},{"t":10,"v":0.14},
{"t":10.2,"v":0.14},{"t":10.3,"v":0.14},{"t":10.4,"v":0.14},{"t":10.5,"v":0.14},{"t":10.6,"v":0.14},{"t":10.7,"v":0.14},{"t":10.8,"v":0.14},{"t":10.9,"v":0.14},{"t":11,"v":0.14},{"t":11.1,"v":0.14},{"t":11.2,"v":0.14},
{"t":11.4,"v":0.14},{"t":11.5,"v":0.14},{"t":11.6,"v":0.14},{"t":11.7,"v":0.14},{"t":11.8,"v":0.14},{"t":11.9,"v":0.14},{"t":12,"v":0.14},{"t":12.1,"v":0.14},{"t":12.2,"v":0.14},
{"t":12.5,"v":0.14},{"t":12.7,"v":0.14},{"t":12.9,"v":0.14},{"t":13.3,"v":0.14},{"t":13.5,"v":0.14},{"t":13.6,"v":0.14},{"t":13.7,"v":0.14},{"t":13.8,"v":0.14},{"t":14,"v":0.14},{"t":14.1,"v":0.14},
{"t":14.3,"v":0.14},{"t":14.4,"v":0.14},{"t":14.5,"v":0.14},{"t":14.6,"v":0.14},{"t":14.7,"v":0.14},{"t":14.8,"v":0.14},
{"t":15.2,"v":0.14},{"t":15.3,"v":0.14},{"t":15.4,"v":0.14},{"t":15.5,"v":0.14},{"t":15.6,"v":0.14},{"t":15.7,"v":0.14},{"t":15.8,"v":0.14},{"t":16,"v":0.14},{"t":16.1,"v":0.14},{"t":16.3,"v":0.14},
{"t":16.7,"v":0.14},{"t":16.8,"v":0.14},{"t":16.9,"v":0.14},{"t":17.3,"v":0.14},{"t":17.5,"v":0.14},{"t":17.6,"v":0.14},{"t":17.7,"v":0.14},{"t":17.8,"v":0.14},{"t":17.9,"v":0.14},{"t":18.2,"v":0.14},{"t":18.4,"v":0.14},
{"t":18.8,"v":0.14},{"t":18.9,"v":0.14},{"t":19,"v":0.14},{"t":19.3,"v":0.14},{"t":19.4,"v":0.14},{"t":19.5,"v":0.14},{"t":19.6,"v":0.14},{"t":19.7,"v":0.14},{"t":19.8,"v":0.14},{"t":19.9,"v":0.14},
{"t":20,"v":0.14},{"t":20.1,"v":0.14},{"t":20.2,"v":0.14},{"t":20.3,"v":0.14},{"t":20.4,"v":0.14},{"t":20.5,"v":0.14},{"t":20.6,"v":0.14},{"t":20.7,"v":0.14},{"t":20.8,"v":0.14},{"t":20.9,"v":0.14},
{"t":21,"v":0.14},{"t":21.1,"v":0.14},{"t":21.2,"v":0.14},{"t":21.3,"v":0.14},{"t":21.4,"v":0.14},{"t":21.5,"v":0.14},{"t":21.6,"v":0.14},{"t":21.7,"v":0.14},{"t":21.8,"v":0.14},{"t":21.9,"v":0.14},
{"t":22,"v":0.14},{"t":22.1,"v":0.14},{"t":22.2,"v":0.14},{"t":22.3,"v":0.14},{"t":22.4,"v":0.14},{"t":22.5,"v":0.14},{"t":22.6,"v":0.14},{"t":22.7,"v":0.14},{"t":22.8,"v":0.14},{"t":22.9,"v":0.14},
{"t":23,"v":0.14},{"t":23.1,"v":0.14},{"t":23.2,"v":0.14},{"t":23.3,"v":0.14},{"t":23.4,"v":0.14},{"t":23.5,"v":0.14},{"t":23.6,"v":0.14},{"t":23.7,"v":0.14},{"t":23.8,"v":0.14},{"t":23.9,"v":0.14},
{"t":0,"v":0.13},{"t":0.1,"v":0.13},{"t":0.2,"v":0.13},{"t":0.3,"v":0.13},{"t":0.4,"v":0.13},{"t":0.5,"v":0.13},{"t":0.6,"v":0.13},{"t":0.7,"v":0.13},{"t":0.8,"v":0.13},{"t":0.9,"v":0.13},
{"t":1,"v":0.13},{"t":1.1,"v":0.13},{"t":1.2,"v":0.13},{"t":1.3,"v":0.13},{"t":1.4,"v":0.13},{"t":1.5,"v":0.13},{"t":1.6,"v":0.13},{"t":1.7,"v":0.13},{"t":1.8,"v":0.13},{"t":1.9,"v":0.13},
{"t":2,"v":0.13},{"t":2.1,"v":0.13},{"t":2.2,"v":0.13},{"t":2.3,"v":0.13},{"t":2.4,"v":0.13},{"t":2.5,"v":0.13},{"t":2.6,"v":0.13},{"t":2.7,"v":0.13},{"t":2.8,"v":0.13},{"t":2.9,"v":0.13},
{"t":3,"v":0.13},{"t":3.1,"v":0.13},{"t":3.2,"v":0.13},{"t":3.3,"v":0.13},{"t":3.4,"v":0.13},{"t":3.5,"v":0.13},{"t":3.6,"v":0.13},{"t":3.7,"v":0.13},{"t":3.8,"v":0.13},{"t":3.9,"v":0.13},
{"t":4,"v":0.13},{"t":4.1,"v":0.13},{"t":4.2,"v":0.13},{"t":4.3,"v":0.13},{"t":4.4,"v":0.13},{"t":4.5,"v":0.13},{"t":4.6,"v":0.13},{"t":4.7,"v":0.13},{"t":4.8,"v":0.13},{"t":4.9,"v":0.13},
{"t":5,"v":0.13},{"t":5.1,"v":0.13},{"t":5.2,"v":0.13},{"t":5.3,"v":0.13},{"t":5.4,"v":0.13},{"t":5.5,"v":0.13},{"t":5.6,"v":0.13},{"t":5.7,"v":0.13},{"t":5.8,"v":0.13},{"t":5.9,"v":0.13},
{"t":6,"v":0.13},{"t":6.1,"v":0.13},{"t":6.2,"v":0.13},{"t":6.3,"v":0.13},{"t":6.4,"v":0.13},{"t":6.5,"v":0.13},{"t":6.6,"v":0.13},{"t":6.7,"v":0.13},{"t":6.8,"v":0.13},{"t":6.9,"v":0.13},
{"t":7,"v":0.13},{"t":7.1,"v":0.13},{"t":7.2,"v":0.13},{"t":7.3,"v":0.13},{"t":7.4,"v":0.13},{"t":7.5,"v":0.13},{"t":7.6,"v":0.13},{"t":7.7,"v":0.13},{"t":7.8,"v":0.13},{"t":7.9,"v":0.13},
{"t":8,"v":0.13},{"t":8.1,"v":0.13},{"t":8.2,"v":0.13},{"t":8.3,"v":0.13},{"t":8.4,"v":0.13},{"t":8.5,"v":0.13},{"t":8.6,"v":0.13},{"t":8.7,"v":0.13},{"t":8.8,"v":0.13},{"t":8.9,"v":0.13},
{"t":9,"v":0.13},{"t":9.1,"v":0.13},{"t":9.2,"v":0.13},{"t":9.3,"v":0.13},{"t":9.4,"v":0.13},{"t":9.5,"v":0.13},{"t":9.6,"v":0.13},{"t":9.7,"v":0.13},{"t":9.8,"v":0.13},{"t":9.9,"v":0.13},
{"t":10,"v":0.13},{"t":10.1,"v":0.13},{"t":10.2,"v":0.13},{"t":10.3,"v":0.13},{"t":10.4,"v":0.13},{"t":10.5,"v":0.13},{"t":10.7,"v":0.13},{"t":10.8,"v":0.13},{"t":10.9,"v":0.13},
{"t":11,"v":0.13},{"t":11.1,"v":0.13},{"t":11.2,"v":0.13},{"t":11.3,"v":0.13},{"t":11.4,"v":0.13},{"t":11.5,"v":0.13},{"t":11.6,"v":0.13},{"t":11.8,"v":0.13},{"t":12.1,"v":0.13},{"t":12.4,"v":0.13},{"t":12.5,"v":0.13},
{"t":12.7,"v":0.13},{"t":12.8,"v":0.13},{"t":12.9,"v":0.13},{"t":13.1,"v":0.13},{"t":13.2,"v":0.13},{"t":13.3,"v":0.13},{"t":13.5,"v":0.13},{"t":13.8,"v":0.13},{"t":14.9,"v":0.13},{"t":15,"v":0.13},{"t":15.1,"v":0.13},{"t":15.4,"v":0.13},
{"t":15.8,"v":0.13},{"t":15.9,"v":0.13},{"t":16,"v":0.13},{"t":16.1,"v":0.13},{"t":16.2,"v":0.13},{"t":16.3,"v":0.13},{"t":16.4,"v":0.13},{"t":16.5,"v":0.13},{"t":16.6,"v":0.13},{"t":16.7,"v":0.13},
{"t":17,"v":0.13},{"t":17.1,"v":0.13},{"t":17.2,"v":0.13},{"t":17.3,"v":0.13},{"t":17.4,"v":0.13},{"t":17.6,"v":0.13},{"t":17.7,"v":0.13},{"t":17.8,"v":0.13},{"t":17.9,"v":0.13},
{"t":18,"v":0.13},{"t":18.1,"v":0.13},{"t":18.2,"v":0.13},{"t":18.3,"v":0.13},{"t":18.4,"v":0.13},{"t":18.5,"v":0.13},{"t":18.6,"v":0.13},{"t":18.7,"v":0.13},{"t":18.8,"v":0.13},{"t":18.9,"v":0.13},
{"t":19,"v":0.13},{"t":19.1,"v":0.13},{"t":19.2,"v":0.13},{"t":19.3,"v":0.13},{"t":19.4,"v":0.13},{"t":19.5,"v":0.13},{"t":19.6,"v":0.13},{"t":19.7,"v":0.13},{"t":19.9,"v":0.13},
{"t":20,"v":0.13},{"t":20.1,"v":0.13},{"t":20.2,"v":0.13},{"t":20.3,"v":0.13},{"t":20.4,"v":0.13},{"t":20.5,"v":0.13},{"t":20.6,"v":0.13},{"t":20.7,"v":0.13},{"t":20.9,"v":0.13},
{"t":21,"v":0.13},{"t":21.1,"v":0.13},{"t":21.2,"v":0.13},{"t":21.3,"v":0.13},{"t":21.4,"v":0.13},{"t":21.5,"v":0.13},{"t":21.6,"v":0.13},{"t":21.7,"v":0.13},{"t":21.8,"v":0.13},{"t":21.9,"v":0.13},
{"t":22,"v":0.13},{"t":22.1,"v":0.13},{"t":22.2,"v":0.13},{"t":22.3,"v":0.13},{"t":22.4,"v":0.13},{"t":22.5,"v":0.13},{"t":22.6,"v":0.13},{"t":22.7,"v":0.13},{"t":22.8,"v":0.13},{"t":22.9,"v":0.13},{"t":23,"v":0.13},
{"t":23.2,"v":0.13},{"t":23.3,"v":0.13},{"t":23.4,"v":0.13},{"t":23.5,"v":0.13},{"t":23.6,"v":0.13},{"t":23.7,"v":0.13},{"t":23.8,"v":0.13},{"t":23.9,"v":0.13},
{"t":0.1,"v":0.12},{"t":1,"v":0.12},{"t":1.1,"v":0.12},{"t":1.3,"v":0.12},{"t":1.6,"v":0.12},{"t":1.8,"v":0.12},{"t":2,"v":0.12},{"t":2.3,"v":0.12},{"t":2.4,"v":0.12},{"t":2.8,"v":0.12},{"t":2.9,"v":0.12},{"t":3,"v":0.12},{"t":3.1,"v":0.12},{"t":3.2,"v":0.12},
{"t":3.5,"v":0.12},{"t":3.6,"v":0.12},{"t":3.7,"v":0.12},{"t":3.8,"v":0.12},{"t":3.9,"v":0.12},{"t":4.1,"v":0.12},{"t":4.2,"v":0.12},{"t":4.3,"v":0.12},{"t":4.5,"v":0.12},{"t":4.9,"v":0.12},{"t":5,"v":0.12},{"t":5.1,"v":0.12},{"t":5.2,"v":0.12},
{"t":5.5,"v":0.12},{"t":5.8,"v":0.12},{"t":6,"v":0.12},{"t":6.3,"v":0.12},{"t":6.4,"v":0.12},{"t":6.5,"v":0.12},{"t":6.7,"v":0.12},{"t":7.3,"v":0.12},{"t":7.5,"v":0.12},{"t":7.7,"v":0.12},{"t":8.1,"v":0.12},{"t":8.2,"v":0.12},{"t":8.4,"v":0.12},{"t":8.9,"v":0.12},
{"t":9.3,"v":0.12},{"t":9.4,"v":0.12},{"t":9.5,"v":0.12},{"t":16.1,"v":0.12},{"t":20.1,"v":0.12},{"t":20.2,"v":0.12},{"t":21.2,"v":0.12},{"t":22.8,"v":0.12}
],
"mean":[
{"t":0,"m":0.1485},{"t":0.1,"m":0.144},{"t":0.2,"m":0.1505},{"t":0.3,"m":0.151},{"t":0.4,"m":0.1518},{"t":0.5,"m":0.151},{"t":0.6,"m":0.1515},{"t":0.7,"m":0.151},{"t":0.8,"m":0.152},{"t":0.9,"m":0.1505},
{"t":1,"m":0.1494},{"t":1.1,"m":0.149},{"t":1.2,"m":0.1485},{"t":1.3,"m":0.1479},{"t":1.4,"m":0.1485},{"t":1.5,"m":0.149},{"t":1.6,"m":0.148},{"t":1.7,"m":0.1468},{"t":1.8,"m":0.1475},{"t":1.9,"m":0.1483},
{"t":2,"m":0.147},{"t":2.1,"m":0.1455},{"t":2.2,"m":0.1445},{"t":2.3,"m":0.1435},{"t":2.4,"m":0.1428},{"t":2.5,"m":0.1435},{"t":2.6,"m":0.1447},{"t":2.7,"m":0.143},{"t":2.8,"m":0.142},{"t":2.9,"m":0.1422},
{"t":3,"m":0.142},{"t":3.1,"m":0.1408},{"t":3.2,"m":0.143},{"t":3.3,"m":0.146},{"t":3.4,"m":0.1455},{"t":3.5,"m":0.1445},{"t":3.6,"m":0.142},{"t":3.7,"m":0.1456},{"t":3.8,"m":0.145},{"t":3.9,"m":0.144},
{"t":4,"m":0.1455},{"t":4.1,"m":0.1378},{"t":4.2,"m":0.1445},{"t":4.3,"m":0.148},{"t":4.4,"m":0.1465},{"t":4.5,"m":0.1455},{"t":4.6,"m":0.146},{"t":4.7,"m":0.1462},{"t":4.8,"m":0.145},{"t":4.9,"m":0.1445},
{"t":5,"m":0.1434},{"t":5.1,"m":0.144},{"t":5.2,"m":0.1445},{"t":5.3,"m":0.145},{"t":5.4,"m":0.144},{"t":5.5,"m":0.1432},{"t":5.6,"m":0.1445},{"t":5.7,"m":0.145},{"t":5.8,"m":0.1418},{"t":5.9,"m":0.1435},
{"t":6,"m":0.145},{"t":6.1,"m":0.1448},{"t":6.2,"m":0.144},{"t":6.3,"m":0.1432},{"t":6.4,"m":0.1425},{"t":6.5,"m":0.1435},{"t":6.6,"m":0.144},{"t":6.7,"m":0.141},{"t":6.8,"m":0.143},{"t":6.9,"m":0.1445},
{"t":7,"m":0.145},{"t":7.1,"m":0.1455},{"t":7.2,"m":0.144},{"t":7.3,"m":0.1462},{"t":7.4,"m":0.1474},{"t":7.5,"m":0.146},{"t":7.6,"m":0.1465},{"t":7.7,"m":0.149},{"t":7.8,"m":0.151},{"t":7.9,"m":0.1535},
{"t":8,"m":0.1525},{"t":8.1,"m":0.1488},{"t":8.2,"m":0.152},{"t":8.3,"m":0.1555},{"t":8.4,"m":0.1615},{"t":8.5,"m":0.1625},{"t":8.6,"m":0.1628},{"t":8.7,"m":0.1635},{"t":8.8,"m":0.1645},{"t":8.9,"m":0.161},
{"t":9,"m":0.1645},{"t":9.1,"m":0.1659},{"t":9.2,"m":0.1645},{"t":9.3,"m":0.165},{"t":9.4,"m":0.165},{"t":9.5,"m":0.1655},{"t":9.6,"m":0.1665},{"t":9.7,"m":0.167},{"t":9.8,"m":0.1675},{"t":9.9,"m":0.168},
{"t":10,"m":0.1675},{"t":10.1,"m":0.169},{"t":10.2,"m":0.17},{"t":10.3,"m":0.1705},{"t":10.4,"m":0.1695},{"t":10.5,"m":0.173},{"t":10.6,"m":0.1715},{"t":10.7,"m":0.1725},{"t":10.8,"m":0.173},{"t":10.9,"m":0.1745},
{"t":11,"m":0.1759},{"t":11.1,"m":0.173},{"t":11.2,"m":0.1755},{"t":11.3,"m":0.175},{"t":11.4,"m":0.176},{"t":11.5,"m":0.1765},{"t":11.6,"m":0.177},{"t":11.7,"m":0.1779},{"t":11.8,"m":0.1765},{"t":11.9,"m":0.1759},
{"t":12,"m":0.178},{"t":12.1,"m":0.175},{"t":12.2,"m":0.1805},{"t":12.3,"m":0.182},{"t":12.4,"m":0.1835},{"t":12.5,"m":0.1845},{"t":12.6,"m":0.186},{"t":12.7,"m":0.186},{"t":12.8,"m":0.1865},{"t":12.9,"m":0.186},
{"t":13,"m":0.1855},{"t":13.1,"m":0.185},{"t":13.2,"m":0.1865},{"t":13.3,"m":0.185},{"t":13.4,"m":0.1855},{"t":13.5,"m":0.1845},{"t":13.6,"m":0.186},{"t":13.7,"m":0.187},{"t":13.8,"m":0.1855},{"t":13.9,"m":0.1862},
{"t":14,"m":0.187},{"t":14.1,"m":0.1865},{"t":14.2,"m":0.1872},{"t":14.3,"m":0.1878},{"t":14.4,"m":0.1885},{"t":14.5,"m":0.189},{"t":14.6,"m":0.189},{"t":14.7,"m":0.1895},{"t":14.8,"m":0.1885},{"t":14.9,"m":0.187},
{"t":15,"m":0.1868},{"t":15.1,"m":0.187},{"t":15.2,"m":0.1872},{"t":15.3,"m":0.1875},{"t":15.4,"m":0.186},{"t":15.5,"m":0.187},{"t":15.6,"m":0.188},{"t":15.7,"m":0.1885},{"t":15.8,"m":0.186},{"t":15.9,"m":0.1862},
{"t":16,"m":0.186},{"t":16.1,"m":0.1805},{"t":16.2,"m":0.187},{"t":16.3,"m":0.1885},{"t":16.4,"m":0.1895},{"t":16.5,"m":0.189},{"t":16.6,"m":0.189},{"t":16.7,"m":0.188},{"t":16.8,"m":0.1905},{"t":16.9,"m":0.189},
{"t":17,"m":0.1875},{"t":17.1,"m":0.1865},{"t":17.2,"m":0.1858},{"t":17.3,"m":0.184},{"t":17.4,"m":0.1848},{"t":17.5,"m":0.1855},{"t":17.6,"m":0.185},{"t":17.7,"m":0.184},{"t":17.8,"m":0.1832},{"t":17.9,"m":0.1825},
{"t":18,"m":0.1825},{"t":18.1,"m":0.182},{"t":18.2,"m":0.184},{"t":18.3,"m":0.1805},{"t":18.4,"m":0.1795},{"t":18.5,"m":0.1785},{"t":18.6,"m":0.179},{"t":18.7,"m":0.18},{"t":18.8,"m":0.178},{"t":18.9,"m":0.1775},
{"t":19,"m":0.1772},{"t":19.1,"m":0.177},{"t":19.2,"m":0.1745},{"t":19.3,"m":0.1745},{"t":19.4,"m":0.1735},{"t":19.5,"m":0.172},{"t":19.6,"m":0.1715},{"t":19.7,"m":0.1705},{"t":19.8,"m":0.171},{"t":19.9,"m":0.1715},
{"t":20,"m":0.171},{"t":20.1,"m":0.1625},{"t":20.2,"m":0.1665},{"t":20.3,"m":0.1685},{"t":20.4,"m":0.17},{"t":20.5,"m":0.171},{"t":20.6,"m":0.17},{"t":20.7,"m":0.169},{"t":20.8,"m":0.1685},{"t":20.9,"m":0.167},
{"t":21,"m":0.1658},{"t":21.1,"m":0.1645},{"t":21.2,"m":0.164},{"t":21.3,"m":0.163},{"t":21.4,"m":0.1618},{"t":21.5,"m":0.1612},{"t":21.6,"m":0.1605},{"t":21.7,"m":0.16},{"t":21.8,"m":0.16},{"t":21.9,"m":0.16},
{"t":22,"m":0.159},{"t":22.1,"m":0.155},{"t":22.2,"m":0.1565},{"t":22.3,"m":0.1555},{"t":22.4,"m":0.1545},{"t":22.5,"m":0.157},{"t":22.6,"m":0.1558},{"t":22.7,"m":0.1545},{"t":22.8,"m":0.1565},{"t":22.9,"m":0.153},
{"t":23,"m":0.1555},{"t":23.1,"m":0.1535},{"t":23.2,"m":0.152},{"t":23.3,"m":0.1515},{"t":23.4,"m":0.1525},{"t":23.5,"m":0.153},{"t":23.6,"m":0.1495},{"t":23.7,"m":0.149},{"t":23.8,"m":0.15},{"t":23.9,"m":0.1505}
]},
"layer":[
{"data":{"name":"dots"},"mark":{"type":"circle","size":12,"opacity":1,"color":"#465089"},
"encoding":{
"x":{"field":"t","type":"quantitative","scale":{"domain":[-0.085,24.106],"nice":false,"zero":false},
"axis":{"values":[0,1,2,3,4,5,6,7,8,9,10,11,12,13,14,15,16,17,18,19,20,21,22,23,24],"labelExpr":"datum.value + ':00'","title":"czas","titleFontSize":11,"grid":false,"domain":false,"tickSize":10,"offset":1,"labelPadding":5,"titlePadding":7}},
"y":{"field":"v","type":"quantitative","scale":{"domain":[-0.003,0.3014],"nice":false,"zero":false},
"axis":{"values":[0,0.1,0.2,0.3],"format":".1f","title":"Wartość średnia","titleFontSize":12,"titleAngle":0,"titleAlign":"left","titleBaseline":"alphabetic","titleX":-31,"titleY":-16,"grid":false,"domain":false,"tickSize":10,"offset":2,"labelPadding":4}}}},
{"data":{"name":"mean"},"mark":{"type":"line","color":"#f39c1b","strokeWidth":3,"interpolate":"linear"},
"encoding":{"x":{"field":"t","type":"quantitative"},"y":{"field":"m","type":"quantitative"}}}
]}
